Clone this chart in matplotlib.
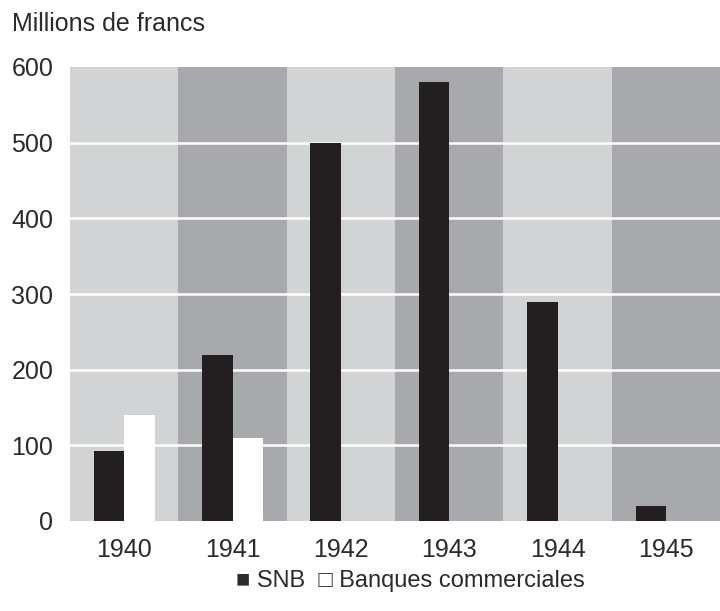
import numpy as np
import matplotlib.pyplot as plt

# Data (millions de francs)
years = ["1940", "1941", "1942", "1943", "1944", "1945"]
snb = [92, 220, 500, 580, 290, 20]
banques = [140, 110, 0, 0, 0, 0]
yticks = [0, 100, 200, 300, 400, 500, 600]

BLACK = "#231f20"
LIGHT = "#d1d3d5"
DARK = "#a7a9ac"
TXT = "#2b2b2b"

plt.rcParams['font.family'] = ['Liberation Sans', 'DejaVu Sans']

fig = plt.figure(figsize=(7.2, 6.11), dpi=100)
ax = fig.add_axes([70/720, 1 - 521/611, 650/720, (521 - 67)/611])

x = np.arange(len(years))
# alternating background bands
for i in x:
    ax.axvspan(i - 0.5, i + 0.5, color=LIGHT if i % 2 == 0 else DARK, lw=0, zorder=0)

# white grid lines
for v in yticks[1:-1]:
    ax.axhline(v, color="white", lw=1.8, zorder=1)

w = 0.28
ax.bar(x - w/2, snb, width=w, color=BLACK, lw=0, zorder=2)
ax.bar(x + w/2, banques, width=w, color="white", lw=0, zorder=2)

ax.set_xlim(-0.5, len(years) - 0.5)
ax.set_ylim(0, 600)
ax.set_xticks(x)
ax.set_xticklabels(years)
ax.set_yticks(yticks)
ax.tick_params(length=0, labelsize=18, colors=TXT)
ax.tick_params(axis='x', pad=12)
ax.tick_params(axis='y', pad=12)
for s in ax.spines.values():
    s.set_visible(False)

fig.text(12/720, 1 - 24/611, "Millions de francs", fontsize=18, color=TXT,
         ha="left", va="center")
fig.text(410/720, 1 - 581/611, "\u25a0 SNB  \u25a1 Banques commerciales", fontsize=17,
         color=TXT, ha="center", va="center")

fig.savefig("out.png", dpi=100)
